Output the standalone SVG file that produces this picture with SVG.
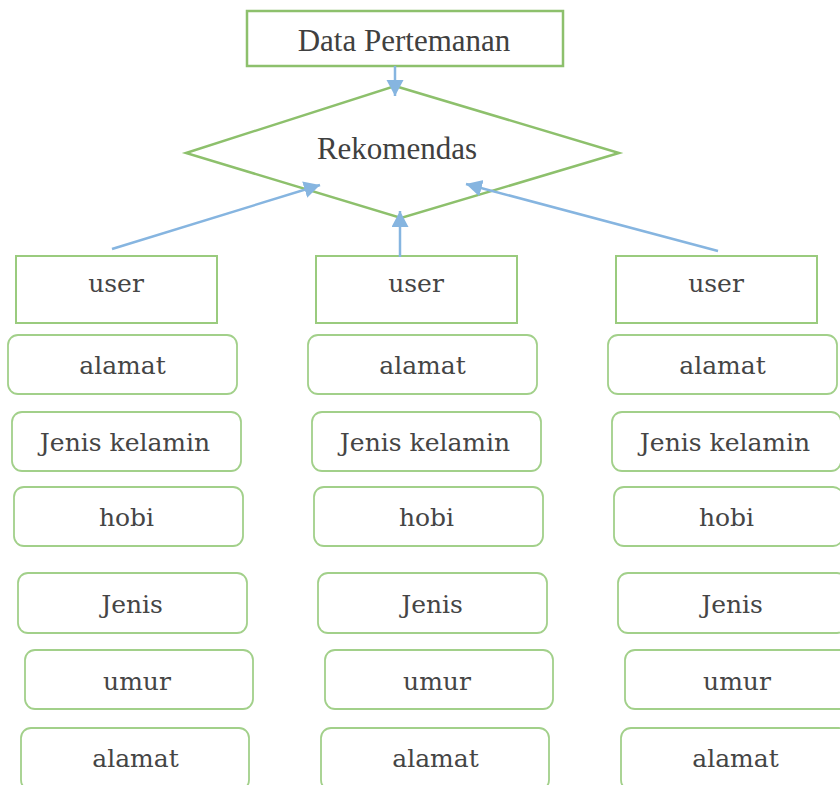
<svg xmlns="http://www.w3.org/2000/svg" width="840" height="785" viewBox="0 0 840 785">
<defs>
<style>
.box{fill:#ffffff;stroke:#8dc06c;stroke-width:2.5}
.ubox{fill:#ffffff;stroke:#9acb7e;stroke-width:2}
.rbox{fill:#ffffff;stroke:#a2d08a;stroke-width:1.8}
.t1{font-family:"Liberation Serif","Times New Roman",serif;font-size:31px;fill:#404040;text-anchor:middle}
.t2{font-family:"DejaVu Serif",serif;font-size:25px;fill:#454545;text-anchor:middle}
.conn{stroke:#86b5e0;stroke-width:2.5;fill:none}
</style>
<marker id="ah" markerUnits="userSpaceOnUse" markerWidth="18" markerHeight="18" refX="16" refY="8.5" orient="auto">
<path d="M0,0 L16,8.5 L0,17 z" fill="#86b5e0"/>
</marker>
</defs>
<rect x="0" y="0" width="840" height="785" fill="#ffffff"/>

<g id="data-pertemanan">
<rect class="box" x="247" y="11" width="316" height="55"/>
<text class="t1" x="404" y="51">Data Pertemanan</text>
</g>

<g id="rekomendasi">
<polygon class="box" fill="none" points="395,86 619,153 401,218 186,153"/>
<text class="t1" x="397" y="159">Rekomendas</text>
</g>

<g id="col1">
<g id="user1"><rect class="ubox" x="16" y="256" width="201" height="67"/><text class="t2" x="116" y="292">user</text></g>
<g id="alamat1a"><rect class="rbox" x="8" y="335" width="229" height="59" rx="10"/><text class="t2" x="122.5" y="374">alamat</text></g>
<g id="jk1"><rect class="rbox" x="12" y="412" width="229" height="59" rx="10"/><text class="t2" x="125" y="451">Jenis kelamin</text></g>
<g id="hobi1"><rect class="rbox" x="14" y="487" width="229" height="59" rx="10"/><text class="t2" x="126.5" y="526">hobi</text></g>
<g id="jenis1"><rect class="rbox" x="18" y="573" width="229" height="60" rx="10"/><text class="t2" x="132" y="613">Jenis</text></g>
<g id="umur1"><rect class="rbox" x="25" y="650" width="228" height="59" rx="10"/><text class="t2" x="137" y="690">umur</text></g>
<g id="alamat1b"><rect class="rbox" x="21" y="728" width="228" height="62" rx="10"/><text class="t2" x="135.5" y="767">alamat</text></g>
</g>

<g id="col2">
<g id="user2"><rect class="ubox" x="316" y="256" width="201" height="67"/><text class="t2" x="416" y="292">user</text></g>
<g id="alamat2a"><rect class="rbox" x="308" y="335" width="229" height="59" rx="10"/><text class="t2" x="422.5" y="374">alamat</text></g>
<g id="jk2"><rect class="rbox" x="312" y="412" width="229" height="59" rx="10"/><text class="t2" x="425" y="451">Jenis kelamin</text></g>
<g id="hobi2"><rect class="rbox" x="314" y="487" width="229" height="59" rx="10"/><text class="t2" x="426.5" y="526">hobi</text></g>
<g id="jenis2"><rect class="rbox" x="318" y="573" width="229" height="60" rx="10"/><text class="t2" x="432" y="613">Jenis</text></g>
<g id="umur2"><rect class="rbox" x="325" y="650" width="228" height="59" rx="10"/><text class="t2" x="437" y="690">umur</text></g>
<g id="alamat2b"><rect class="rbox" x="321" y="728" width="228" height="62" rx="10"/><text class="t2" x="435.5" y="767">alamat</text></g>
</g>

<g id="col3">
<g id="user3"><rect class="ubox" x="616" y="256" width="201" height="67"/><text class="t2" x="716" y="292">user</text></g>
<g id="alamat3a"><rect class="rbox" x="608" y="335" width="229" height="59" rx="10"/><text class="t2" x="722.5" y="374">alamat</text></g>
<g id="jk3"><rect class="rbox" x="612" y="412" width="229" height="59" rx="10"/><text class="t2" x="725" y="451">Jenis kelamin</text></g>
<g id="hobi3"><rect class="rbox" x="614" y="487" width="229" height="59" rx="10"/><text class="t2" x="726.5" y="526">hobi</text></g>
<g id="jenis3"><rect class="rbox" x="618" y="573" width="229" height="60" rx="10"/><text class="t2" x="732" y="613">Jenis</text></g>
<g id="umur3"><rect class="rbox" x="625" y="650" width="228" height="59" rx="10"/><text class="t2" x="737" y="690">umur</text></g>
<g id="alamat3b"><rect class="rbox" x="621" y="728" width="228" height="62" rx="10"/><text class="t2" x="735.5" y="767">alamat</text></g>
</g>

<g id="connectors">
<line class="conn" x1="395" y1="66" x2="395" y2="96" marker-end="url(#ah)"/>
<line class="conn" x1="400" y1="257" x2="400" y2="211" marker-end="url(#ah)"/>
<line class="conn" x1="112" y1="249" x2="320" y2="185" marker-end="url(#ah)"/>
<line class="conn" x1="718" y1="251" x2="466" y2="184" marker-end="url(#ah)"/>
</g>
</svg>
